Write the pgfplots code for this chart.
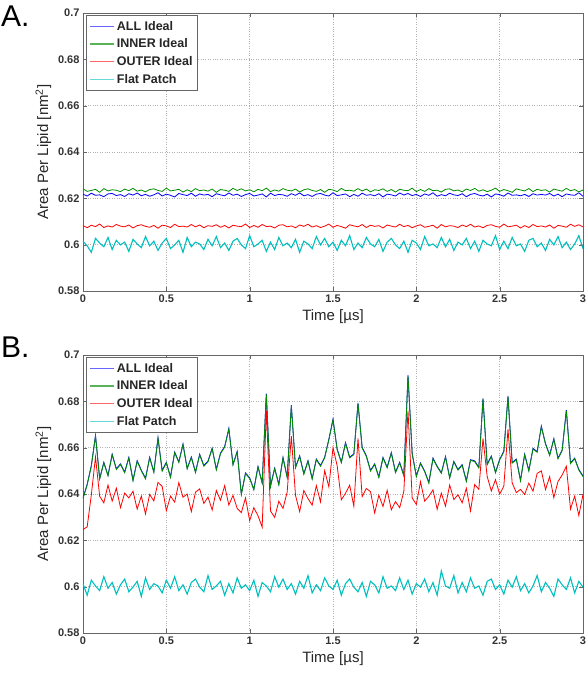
\documentclass[border=0pt]{standalone}
\usepackage{pgfplots}
\pgfplotsset{compat=1.18}
\usepackage{pgfplotstable}
\usepackage{fontspec}
\setmainfont{Liberation Sans}

\definecolor{mblue}{rgb}{0,0,1}
\definecolor{mgreen}{rgb}{0,0.55,0}
\definecolor{mred}{rgb}{1,0,0}
\definecolor{mcyan}{rgb}{0,0.75,0.75}
\definecolor{frame}{gray}{0.4}

\pgfplotstableread{
t aall ainn aout aflat ball binn bout bflat
0 0.6218 0.6241 0.6082 0.6015 0.6383 0.6380 0.6247 0.6013
0.025 0.6210 0.6230 0.6073 0.5995 0.6442 0.6439 0.6258 0.5963
0.05 0.6222 0.6234 0.6084 0.5967 0.6523 0.6520 0.6396 0.6028
0.075 0.6213 0.6239 0.6078 0.6027 0.6653 0.6650 0.6560 0.6003
0.1 0.6215 0.6226 0.6089 0.6007 0.6467 0.6464 0.6390 0.5983
0.125 0.6207 0.6242 0.6074 0.5991 0.6537 0.6534 0.6362 0.6043
0.15 0.6219 0.6232 0.6081 0.6031 0.6481 0.6478 0.6439 0.5993
0.175 0.6221 0.6237 0.6076 0.5979 0.6572 0.6569 0.6369 0.6018
0.2 0.6212 0.6235 0.6087 0.6019 0.6509 0.6506 0.6425 0.5968
0.225 0.6216 0.6229 0.6080 0.5999 0.6530 0.6527 0.6341 0.6008
0.25 0.6208 0.6240 0.6077 0.6011 0.6495 0.6492 0.6404 0.6033
0.275 0.6220 0.6233 0.6085 0.5971 0.6558 0.6555 0.6383 0.5978
0.3 0.6214 0.6243 0.6072 0.6023 0.6460 0.6457 0.6412 0.5998
0.325 0.6223 0.6231 0.6082 0.6003 0.6544 0.6541 0.6335 0.6023
0.35 0.6211 0.6236 0.6086 0.5987 0.6503 0.6500 0.6391 0.5958
0.375 0.6217 0.6228 0.6079 0.6035 0.6468 0.6465 0.6314 0.6038
0.4 0.6209 0.6238 0.6075 0.5995 0.6559 0.6556 0.6398 0.5988
0.425 0.6215 0.6241 0.6083 0.6015 0.6496 0.6493 0.6370 0.6013
0.45 0.6224 0.6234 0.6071 0.5975 0.6643 0.6640 0.6450 0.6003
0.475 0.6210 0.6230 0.6084 0.6007 0.6502 0.6499 0.6433 0.5973
0.5 0.6218 0.6244 0.6081 0.6027 0.6537 0.6534 0.6328 0.6028
0.525 0.6213 0.6232 0.6074 0.5983 0.6474 0.6471 0.6391 0.5993
0.55 0.6206 0.6235 0.6088 0.5999 0.6581 0.6578 0.6365 0.6043
0.575 0.6221 0.6239 0.6078 0.6019 0.6539 0.6536 0.6449 0.5983
0.6 0.6216 0.6227 0.6080 0.5967 0.6616 0.6613 0.6386 0.6008
0.625 0.6212 0.6237 0.6076 0.6031 0.6511 0.6508 0.6400 0.5968
0.65 0.6222 0.6229 0.6087 0.5991 0.6560 0.6557 0.6324 0.6018
0.675 0.6209 0.6242 0.6077 0.6011 0.6495 0.6492 0.6408 0.6033
0.7 0.6219 0.6233 0.6085 0.6003 0.6572 0.6569 0.6422 0.5998
0.725 0.6214 0.6236 0.6073 0.5979 0.6523 0.6520 0.6359 0.5978
0.75 0.6217 0.6231 0.6082 0.6023 0.6542 0.6539 0.6387 0.6048
0.775 0.6207 0.6240 0.6079 0.5995 0.6598 0.6595 0.6331 0.5988
0.8 0.6220 0.6226 0.6086 0.6035 0.6507 0.6504 0.6415 0.6003
0.825 0.6215 0.6238 0.6075 0.5987 0.6577 0.6574 0.6373 0.6023
0.85 0.6211 0.6235 0.6083 0.6007 0.6605 0.6602 0.6436 0.5963
0.875 0.6223 0.6230 0.6072 0.5975 0.6683 0.6680 0.6352 0.6013
0.9 0.6213 0.6243 0.6084 0.6015 0.6528 0.6525 0.6394 0.5973
0.925 0.6218 0.6234 0.6080 0.6027 0.6584 0.6581 0.6338 0.6038
0.95 0.6208 0.6241 0.6078 0.5999 0.6400 0.6397 0.6320 0.5993
0.975 0.6216 0.6232 0.6089 0.5983 0.6491 0.6488 0.6383 0.6008
1.0 0.6221 0.6237 0.6074 0.6039 0.6470 0.6467 0.6285 0.5983
1.025 0.6210 0.6228 0.6083 0.5991 0.6421 0.6418 0.6341 0.6028
1.05 0.6214 0.6239 0.6075 0.6003 0.6519 0.6516 0.6306 0.5958
1.075 0.6219 0.6233 0.6087 0.6019 0.6449 0.6446 0.6257 0.6018
1.1 0.6206 0.6244 0.6078 0.5971 0.6833 0.6830 0.6760 0.6003
1.125 0.6222 0.6229 0.6080 0.6011 0.6435 0.6432 0.6327 0.5978
1.15 0.6212 0.6236 0.6072 0.5979 0.6512 0.6509 0.6299 0.6043
1.175 0.6217 0.6231 0.6084 0.6031 0.6442 0.6439 0.6369 0.5998
1.2 0.6215 0.6242 0.6086 0.5995 0.6558 0.6555 0.6338 0.6033
1.225 0.6209 0.6235 0.6077 0.6007 0.6474 0.6471 0.6408 0.5988
1.25 0.6220 0.6232 0.6081 0.5987 0.6783 0.6780 0.6650 0.6013
1.275 0.6213 0.6240 0.6073 0.6023 0.6516 0.6513 0.6394 0.5968
1.3 0.6223 0.6227 0.6085 0.5967 0.6565 0.6562 0.6324 0.6023
1.325 0.6211 0.6237 0.6079 0.6015 0.6488 0.6485 0.6415 0.5993
1.35 0.6216 0.6241 0.6088 0.6003 0.6544 0.6541 0.6380 0.6048
1.375 0.6208 0.6234 0.6076 0.5983 0.6467 0.6464 0.6352 0.5973
1.4 0.6218 0.6230 0.6082 0.6035 0.6551 0.6548 0.6436 0.6008
1.425 0.6221 0.6238 0.6074 0.5999 0.6523 0.6520 0.6366 0.5983
1.45 0.6214 0.6226 0.6080 0.6027 0.6559 0.6556 0.6501 0.6038
1.475 0.6210 0.6239 0.6089 0.5991 0.6636 0.6633 0.6431 0.6003
1.5 0.6224 0.6236 0.6075 0.6011 0.6723 0.6720 0.6600 0.5988
1.525 0.6212 0.6229 0.6083 0.5975 0.6594 0.6591 0.6522 0.6028
1.55 0.6215 0.6243 0.6078 0.6019 0.6538 0.6535 0.6375 0.5963
1.575 0.6219 0.6233 0.6071 0.5995 0.6622 0.6619 0.6403 0.6013
1.6 0.6207 0.6235 0.6086 0.6039 0.6559 0.6556 0.6438 0.6033
1.625 0.6217 0.6231 0.6081 0.5979 0.6573 0.6570 0.6347 0.5998
1.65 0.6209 0.6242 0.6077 0.6007 0.6793 0.6790 0.6640 0.5978
1.675 0.6222 0.6232 0.6087 0.5987 0.6601 0.6598 0.6389 0.6018
1.7 0.6213 0.6240 0.6074 0.6031 0.6565 0.6562 0.6424 0.5958
1.725 0.6216 0.6228 0.6084 0.6003 0.6502 0.6499 0.6410 0.6023
1.75 0.6211 0.6237 0.6079 0.5991 0.6530 0.6527 0.6318 0.6008
1.775 0.6220 0.6234 0.6082 0.6023 0.6474 0.6471 0.6395 0.5973
1.8 0.6206 0.6241 0.6072 0.5971 0.6558 0.6555 0.6346 0.6043
1.825 0.6218 0.6230 0.6085 0.6011 0.6516 0.6513 0.6416 0.5993
1.85 0.6215 0.6238 0.6080 0.6027 0.6579 0.6576 0.6332 0.6003
1.875 0.6210 0.6227 0.6076 0.5999 0.6495 0.6492 0.6367 0.5983
1.9 0.6223 0.6239 0.6088 0.5983 0.6537 0.6534 0.6341 0.6038
1.925 0.6214 0.6235 0.6078 0.6015 0.6481 0.6478 0.6411 0.5988
1.95 0.6221 0.6233 0.6083 0.5967 0.6913 0.6910 0.6760 0.6028
1.975 0.6212 0.6244 0.6073 0.6019 0.6576 0.6573 0.6383 0.5968
2.0 0.6217 0.6229 0.6081 0.6007 0.6478 0.6475 0.6355 0.6013
2.025 0.6208 0.6238 0.6086 0.5979 0.6534 0.6531 0.6453 0.5998
2.05 0.6219 0.6230 0.6075 0.6035 0.6499 0.6496 0.6369 0.6033
2.075 0.6213 0.6242 0.6079 0.5995 0.6450 0.6447 0.6390 0.5978
2.1 0.6224 0.6233 0.6084 0.6003 0.6555 0.6552 0.6418 0.6018
2.125 0.6209 0.6235 0.6071 0.5987 0.6520 0.6517 0.6334 0.5963
2.15 0.6216 0.6227 0.6087 0.6031 0.6492 0.6489 0.6404 0.6068
2.175 0.6211 0.6239 0.6077 0.5991 0.6562 0.6559 0.6348 0.6003
2.2 0.6222 0.6241 0.6082 0.6023 0.6471 0.6468 0.6439 0.5993
2.225 0.6215 0.6232 0.6080 0.5975 0.6541 0.6538 0.6376 0.6048
2.25 0.6212 0.6236 0.6074 0.6011 0.6506 0.6503 0.6397 0.5973
2.275 0.6220 0.6228 0.6085 0.5999 0.6527 0.6524 0.6362 0.6018
2.3 0.6207 0.6240 0.6078 0.6027 0.6457 0.6454 0.6425 0.5978
2.325 0.6217 0.6234 0.6088 0.5983 0.6548 0.6545 0.6327 0.6038
2.35 0.6221 0.6243 0.6076 0.6015 0.6543 0.6540 0.6441 0.5993
2.375 0.6214 0.6231 0.6081 0.5971 0.6515 0.6512 0.6420 0.6003
2.4 0.6210 0.6237 0.6073 0.6019 0.6813 0.6810 0.6640 0.5963
2.425 0.6218 0.6229 0.6083 0.6003 0.6529 0.6526 0.6476 0.6023
2.45 0.6206 0.6235 0.6086 0.5995 0.6564 0.6561 0.6413 0.6033
2.475 0.6219 0.6244 0.6079 0.6039 0.6494 0.6491 0.6462 0.5988
2.5 0.6216 0.6230 0.6075 0.5979 0.6550 0.6547 0.6399 0.6008
2.525 0.6209 0.6238 0.6089 0.6015 0.6585 0.6582 0.6434 0.5968
2.55 0.6223 0.6233 0.6077 0.5983 0.6823 0.6820 0.6680 0.6028
2.575 0.6213 0.6226 0.6080 0.6031 0.6536 0.6533 0.6448 0.5998
2.6 0.6215 0.6241 0.6084 0.5995 0.6551 0.6548 0.6406 0.6043
2.625 0.6211 0.6236 0.6072 0.6003 0.6460 0.6457 0.6420 0.5983
2.65 0.6217 0.6232 0.6082 0.5971 0.6572 0.6569 0.6398 0.6013
2.675 0.6208 0.6242 0.6074 0.6019 0.6502 0.6499 0.6447 0.5973
2.7 0.6220 0.6229 0.6087 0.6027 0.6597 0.6594 0.6412 0.6003
2.725 0.6214 0.6239 0.6078 0.5991 0.6583 0.6580 0.6489 0.6048
2.75 0.6217 0.6234 0.6081 0.6007 0.6693 0.6690 0.6500 0.5978
2.775 0.6214 0.6237 0.6076 0.5975 0.6618 0.6615 0.6419 0.6018
2.8 0.6221 0.6227 0.6085 0.6023 0.6569 0.6566 0.6475 0.5993
2.825 0.6210 0.6240 0.6071 0.5999 0.6639 0.6636 0.6384 0.5958
2.85 0.6218 0.6235 0.6083 0.6035 0.6555 0.6552 0.6454 0.6033
2.875 0.6207 0.6231 0.6080 0.5987 0.6590 0.6587 0.6482 0.6008
2.9 0.6219 0.6243 0.6075 0.6011 0.6763 0.6760 0.6520 0.5988
2.925 0.6215 0.6233 0.6088 0.5979 0.6534 0.6531 0.6335 0.6038
2.95 0.6213 0.6238 0.6079 0.6003 0.6555 0.6552 0.6391 0.5973
2.975 0.6224 0.6228 0.6086 0.6039 0.6506 0.6503 0.6307 0.6023
3.0 0.6209 0.6236 0.6077 0.5983 0.6478 0.6475 0.6398 0.5998
}\data

\pgfplotsset{
  myax/.style={
    scale only axis, width=500pt, height=278pt,
    xmin=0, xmax=3, ymin=0.58, ymax=0.7,
    xtick={0,0.5,1,1.5,2,2.5,3},
    ytick={0.58,0.6,0.62,0.64,0.66,0.68,0.7},
    yticklabel style={/pgf/number format/fixed, /pgf/number format/precision=2},
    xticklabel style={/pgf/number format/fixed},
    grid=major, major grid style={dotted, gray!60, line width=0.6pt},
    tick align=inside, major tick length=4pt,
    axis line style={frame, line width=0.8pt}, tick style={frame},
    ticklabel style={font=\bfseries\fontsize{11}{13}\selectfont, text=black!80},
    /pgf/number format/assume math mode=true,
    xlabel={Time [µs]},
    ylabel={Area Per Lipid [nm\textsuperscript{2}]},
    label style={font=\fontsize{15}{17}\selectfont, text=black!85},
    legend style={at={(0.006,0.993)}, anchor=north west, draw=frame, line width=0.8pt,
      font=\bfseries\fontsize{12.5}{14}\selectfont, row sep=3pt, inner xsep=3pt, inner ysep=4pt,
      text=black!85},
    legend cell align=left,
    legend image code/.code={\draw[#1, line width=1.5pt] (0pt,0pt) -- (24pt,0pt);},
    every axis plot/.append style={line width=0.8pt, no markers},
  },
}

\begin{document}
\begin{tikzpicture}
\path[use as bounding box] (0pt,0pt) rectangle (587pt,673pt);
\node[anchor=base west, font=\fontsize{30}{30}\selectfont, inner sep=0pt] at (1pt,646pt) {A.};
\node[anchor=base west, font=\fontsize{30}{30}\selectfont, inner sep=0pt] at (1pt,315pt) {B.};

\begin{axis}[myax, at={(83pt,382pt)}, anchor=south west]
\addplot[mblue, forget plot] table[x=t, y=aall] {\data};
\addplot[mgreen, forget plot] table[x=t, y=ainn] {\data};
\addplot[mred, forget plot] table[x=t, y=aout] {\data};
\addplot[mcyan, line width=1.1pt, forget plot] table[x=t, y=aflat] {\data};
\addlegendimage{draw=mblue!60}
\addlegendentry{ALL Ideal}
\addlegendimage{draw=mgreen!65}
\addlegendentry{INNER Ideal}
\addlegendimage{draw=mred!60}
\addlegendentry{OUTER Ideal}
\addlegendimage{draw=mcyan!60}
\addlegendentry{Flat Patch}
\end{axis}

\begin{axis}[myax, at={(83pt,40pt)}, anchor=south west]
\addplot[mblue, forget plot] table[x=t, y=ball] {\data};
\addplot[mgreen, forget plot] table[x=t, y=binn] {\data};
\addplot[mred, forget plot] table[x=t, y=bout] {\data};
\addplot[mcyan, line width=1.1pt, forget plot] table[x=t, y=bflat] {\data};
\addlegendimage{draw=mblue!60}
\addlegendentry{ALL Ideal}
\addlegendimage{draw=mgreen!65}
\addlegendentry{INNER Ideal}
\addlegendimage{draw=mred!60}
\addlegendentry{OUTER Ideal}
\addlegendimage{draw=mcyan!60}
\addlegendentry{Flat Patch}
\end{axis}
\end{tikzpicture}
\end{document}
